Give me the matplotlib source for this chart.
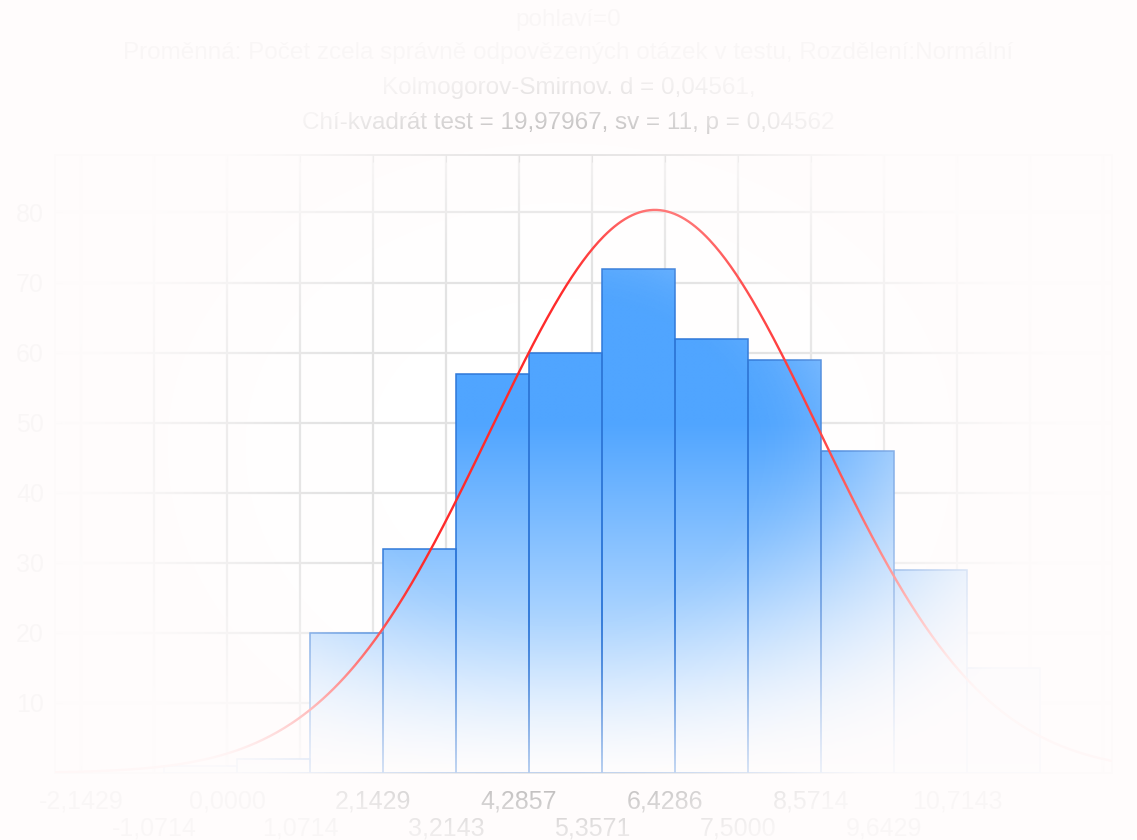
import numpy as np
import matplotlib
matplotlib.use("Agg")
import matplotlib.pyplot as plt
from matplotlib.patches import Rectangle

plt.rcParams['font.family'] = ['Liberation Sans', 'DejaVu Sans']

# cetnosti ve tridach (pocet zcela spravne zodpovezenych otazek)
counts = [1, 2, 20, 32, 57, 60, 72, 62, 59, 46, 29, 15]
bin_width = 15 / 14
bin_start = 0.1429 - bin_width
even_ticks = [k * 15 / 14 for k in range(-2, 13, 2)]
odd_ticks = [k * 15 / 14 for k in range(-1, 13, 2)]
even_labels = ["-2,1429", "0,0000", "2,1429", "4,2857", "6,4286", "8,5714", "10,7143", ""]
odd_labels = ["-1,0714", "1,0714", "3,2143", "5,3571", "7,5000", "9,6429", ""]
y_ticks = [10, 20, 30, 40, 50, 60, 70, 80]

# parametry prolozeneho normalniho rozdeleni
mu = 6.28
sigma = 2.42

title_lines = [
    "pohlaví=0",
    "Proměnná: Počet zcela správně odpovězených otázek v testu, Rozdělení:Normální",
    "Kolmogorov-Smirnov. d = 0,04561,",
    "Chí-kvadrát test = 19,97967, sv = 11, p = 0,04562",
]

W, H = 1137, 840
XMIN, XMAX, YMAX = -2.525, 12.99, 88.2
fig = plt.figure(figsize=(W / 100, H / 100), dpi=100, facecolor='white')
ax = fig.add_axes([55 / W, 1 - 773 / H, (1112 - 55) / W, (773 - 155) / H])

# mrizka a osy
ax.set_axisbelow(True)
for s in ax.spines.values():
    s.set_color('#bdbdbd')
    s.set_linewidth(1.3)
ax.set_xticks(even_ticks)
ax.set_xticklabels(even_labels)
ax.set_xticks(odd_ticks, minor=True)
ax.set_xticklabels(odd_labels, minor=True)
ax.set_yticks(y_ticks)
ax.grid(True, which='both', color='#e2e2e2', lw=1.6)
ax.tick_params(which='both', direction='in', length=5, color='#bdbdbd', labelsize=18,
               labelcolor='#202020', top=True, right=False)
ax.tick_params(axis='x', which='major', pad=12)
ax.tick_params(axis='x', which='minor', pad=31)
ax.tick_params(axis='y', pad=8)

# sloupce histogramu s gradientem shora dolu
blue = np.array([80, 165, 255]) / 255
yy = np.linspace(0, YMAX, 400)
f = np.clip(yy / 50, 0, 1) ** 0.9
grad = (1 - f[:, None, None]) * np.ones((400, 1, 3)) + blue[None, None, :] * f[:, None, None]
for k, c in enumerate(counts):
    x0 = bin_start + k * bin_width
    rect = Rectangle((x0, 0), bin_width, c, facecolor='none', edgecolor='#2f78d8',
                     lw=1.1, zorder=3)
    ax.add_patch(rect)
    im = ax.imshow(grad, extent=(x0, x0 + bin_width, 0, YMAX), origin='lower',
                   aspect='auto', zorder=2, interpolation='bilinear')
    im.set_clip_path(rect)
ax.set_xlim(XMIN, XMAX)
ax.set_ylim(0, YMAX)

# normalni krivka
n_total = sum(counts)
xs = np.linspace(XMIN, XMAX, 600)
ys = n_total * bin_width * np.exp(-0.5 * ((xs - mu) / sigma) ** 2) / (sigma * np.sqrt(2 * np.pi))
ax.plot(xs, ys, color='#ff2b2b', lw=1.7, zorder=4)

# titulek
for line, ypix in zip(title_lines, [20, 53, 88, 123]):
    fig.text(0.5, 1 - ypix / H, line, ha='center', va='center', fontsize=17.5, color='#202020')

# svetly zavoj smerem k okrajum (nahore uzsi, dole sirsi)
gx, gy = np.meshgrid(np.arange(W), np.arange(H))
cy = 445
ay = np.where(gy < cy, 400, 440)
r = np.sqrt(((gx - 560) / 520) ** 2 + ((gy - cy) / ay) ** 2)
t = np.clip((r - 0.35) / 0.65, 0, 1)
alpha = 0.98 * (3 * t ** 2 - 2 * t ** 3)
haze = np.zeros((H, W, 4), dtype=np.uint8)
haze[..., 0] = 255
haze[..., 1] = 252
haze[..., 2] = 252
haze[..., 3] = np.round(alpha * 255).astype(np.uint8)
fig.figimage(haze, xo=0, yo=0, origin='upper', zorder=10)

fig.savefig("out.png", dpi=100)
